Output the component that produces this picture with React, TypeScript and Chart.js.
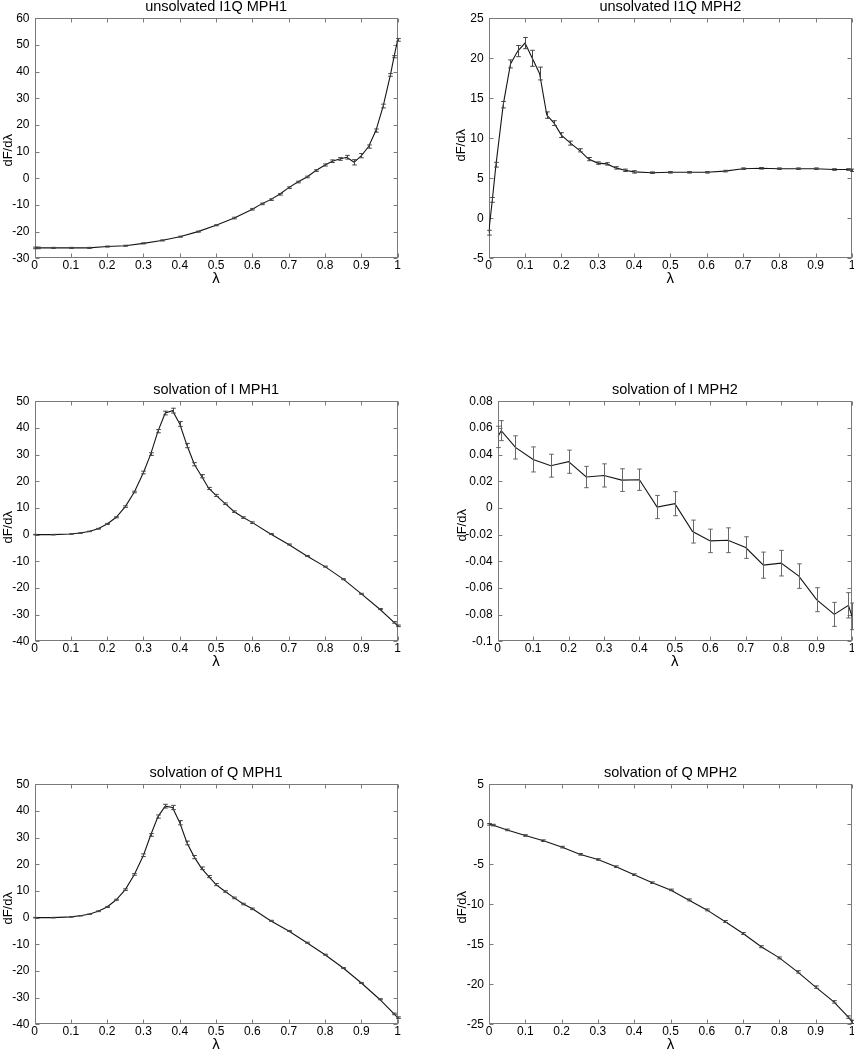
import React, { useEffect, useRef } from 'react';
import { Chart, registerables } from 'chart.js';

Chart.register(...registerables);

const FONT = "'Liberation Sans', Arial, Helvetica, sans-serif";

// ---------- Data ----------
// unsolvated I1Q MPH1
const lambdaA = [0, 0.01, 0.05, 0.1, 0.15, 0.2, 0.25, 0.3, 0.35, 0.4, 0.45, 0.5, 0.55, 0.6, 0.625, 0.65, 0.675, 0.7, 0.725, 0.75, 0.775, 0.8, 0.82, 0.84, 0.86, 0.88, 0.9, 0.92, 0.94, 0.96, 0.98, 0.99, 1];
const dFdlA = [-26.1, -26.1, -26.1, -26.1, -26.1, -25.6, -25.3, -24.4, -23.3, -21.9, -20, -17.6, -14.9, -11.6, -9.6, -8, -6, -3.5, -1.4, 0.5, 2.9, 5, 6.4, 7.25, 7.9, 6.0, 8.5, 11.9, 17.9, 27.1, 38.75, 45.6, 51.9];
const errA = [0.3, 0.3, 0.2, 0.2, 0.2, 0.2, 0.2, 0.2, 0.2, 0.2, 0.2, 0.2, 0.3, 0.3, 0.3, 0.3, 0.3, 0.3, 0.3, 0.3, 0.3, 0.4, 0.5, 0.5, 0.7, 1.0, 0.8, 0.6, 0.6, 0.7, 0.5, 0.4, 0.5];

// unsolvated I1Q MPH2
const lambdaB = [0, 0.01, 0.02, 0.04, 0.06, 0.08, 0.1, 0.12, 0.14, 0.16, 0.18, 0.2, 0.225, 0.25, 0.275, 0.3, 0.325, 0.35, 0.375, 0.4, 0.45, 0.5, 0.55, 0.6, 0.65, 0.7, 0.75, 0.8, 0.85, 0.9, 0.95, 0.99, 1];
const dFdlB = [-1.8, 2.3, 6.7, 14.2, 19.3, 20.9, 21.9, 20.0, 18.1, 12.9, 11.9, 10.4, 9.4, 8.5, 7.4, 6.9, 6.8, 6.3, 6.0, 5.8, 5.7, 5.75, 5.75, 5.75, 5.9, 6.2, 6.25, 6.2, 6.2, 6.2, 6.1, 6.1, 6.0];
const errB = [0.3, 0.3, 0.3, 0.4, 0.5, 0.7, 0.7, 1.0, 0.8, 0.4, 0.3, 0.3, 0.25, 0.2, 0.2, 0.15, 0.15, 0.15, 0.15, 0.15, 0.1, 0.1, 0.1, 0.1, 0.1, 0.1, 0.1, 0.1, 0.1, 0.1, 0.1, 0.1, 0.15];

// solvation of I MPH1
const lambdaC = [0, 0.05, 0.1, 0.125, 0.15, 0.175, 0.2, 0.225, 0.25, 0.275, 0.3, 0.32, 0.34, 0.36, 0.38, 0.4, 0.42, 0.44, 0.46, 0.48, 0.5, 0.525, 0.55, 0.575, 0.6, 0.65, 0.7, 0.75, 0.8, 0.85, 0.9, 0.95, 0.99, 1];
const dFdlC = [0, 0, 0.25, 0.6, 1.2, 2.2, 4.0, 6.5, 10.5, 16.0, 23.3, 30.2, 38.8, 45.6, 46.5, 41.5, 33.4, 26.4, 21.9, 17.3, 14.7, 11.6, 8.6, 6.4, 4.5, 0.25, -3.7, -8.0, -12.0, -16.7, -22.2, -27.9, -32.9, -34.2];
const errC = [0.1, 0.1, 0.1, 0.1, 0.1, 0.15, 0.2, 0.2, 0.3, 0.3, 0.5, 0.5, 0.6, 0.7, 0.9, 0.9, 0.8, 0.6, 0.6, 0.4, 0.4, 0.3, 0.3, 0.3, 0.3, 0.2, 0.2, 0.2, 0.2, 0.2, 0.2, 0.2, 0.3, 0.3];

// solvation of I MPH2
const lambdaD = [0, 0.01, 0.05, 0.1, 0.15, 0.2, 0.25, 0.3, 0.35, 0.4, 0.45, 0.5, 0.55, 0.6, 0.65, 0.7, 0.75, 0.8, 0.85, 0.9, 0.95, 0.99, 1];
const dFdlD = [0.0533, 0.058, 0.0454, 0.0364, 0.0317, 0.0347, 0.0232, 0.0244, 0.0209, 0.0212, 0.0007, 0.0032, -0.0177, -0.0247, -0.0242, -0.0297, -0.0429, -0.0414, -0.0511, -0.0688, -0.0798, -0.073, -0.0813];
const errD = [0.008, 0.0075, 0.0087, 0.0094, 0.0086, 0.0087, 0.008, 0.0087, 0.0085, 0.008, 0.0087, 0.009, 0.0086, 0.0088, 0.0093, 0.0081, 0.0098, 0.0096, 0.0092, 0.009, 0.009, 0.0095, 0.01];

// solvation of Q MPH1
const lambdaE = [0, 0.05, 0.1, 0.125, 0.15, 0.175, 0.2, 0.225, 0.25, 0.275, 0.3, 0.32, 0.34, 0.36, 0.38, 0.4, 0.42, 0.44, 0.46, 0.48, 0.5, 0.525, 0.55, 0.575, 0.6, 0.65, 0.7, 0.75, 0.8, 0.85, 0.9, 0.95, 0.99, 1];
const dFdlE = [0, 0, 0.3, 0.7, 1.3, 2.4, 4.0, 6.7, 10.5, 16.2, 23.4, 31.0, 37.9, 41.8, 41.3, 35.6, 28.0, 22.7, 18.5, 15.4, 12.4, 9.8, 7.4, 5.1, 3.3, -1.2, -5.0, -9.4, -13.9, -18.9, -24.5, -30.6, -36.1, -37.5];
const errE = [0.1, 0.1, 0.1, 0.1, 0.1, 0.15, 0.2, 0.2, 0.3, 0.3, 0.5, 0.5, 0.6, 0.7, 0.8, 0.8, 0.7, 0.6, 0.5, 0.4, 0.4, 0.3, 0.3, 0.3, 0.3, 0.2, 0.2, 0.2, 0.2, 0.2, 0.2, 0.2, 0.3, 0.3];

// solvation of Q MPH2
const lambdaF = [0, 0.01, 0.05, 0.1, 0.15, 0.2, 0.25, 0.3, 0.35, 0.4, 0.45, 0.5, 0.55, 0.6, 0.65, 0.7, 0.75, 0.8, 0.85, 0.9, 0.95, 0.99, 1];
const dFdlF = [0, -0.1, -0.7, -1.4, -2.05, -2.85, -3.75, -4.4, -5.3, -6.3, -7.3, -8.2, -9.45, -10.7, -12.15, -13.65, -15.3, -16.7, -18.45, -20.35, -22.2, -24.1, -24.7];
const errF = [0.1, 0.1, 0.1, 0.1, 0.1, 0.1, 0.1, 0.1, 0.1, 0.1, 0.1, 0.1, 0.12, 0.12, 0.12, 0.12, 0.12, 0.12, 0.15, 0.15, 0.15, 0.15, 0.2];

const titles = [
  'unsolvated I1Q MPH1',
  'unsolvated I1Q MPH2',
  'solvation of I MPH1',
  'solvation of I MPH2',
  'solvation of Q MPH1',
  'solvation of Q MPH2',
];
const yRanges = [
  [-30, 60, 10],
  [-5, 25, 5],
  [-40, 50, 10],
  [-0.1, 0.08, 0.02],
  [-40, 50, 10],
  [-25, 5, 5],
];
const xLabel = 'λ';
const yLabel = 'dF/dλ';

// ---------- Plugins ----------
const framePlugin = {
  id: 'frame',
  beforeDatasetsDraw(chart: any) {
    const { ctx, chartArea: a, scales } = chart;
    const tl = 4;
    ctx.save();
    ctx.strokeStyle = '#7a7a7a';
    ctx.lineWidth = 1;
    const L = Math.round(a.left) + 0.5;
    const R = Math.round(a.right) - 0.5;
    const T = Math.round(a.top) + 0.5;
    const B = Math.round(a.bottom) - 0.5;
    ctx.strokeRect(L, T, R - L, B - T);
    ctx.beginPath();
    scales.x.ticks.forEach((t: any) => {
      const px = Math.round(scales.x.getPixelForValue(t.value)) + 0.5;
      ctx.moveTo(px, B);
      ctx.lineTo(px, B - tl);
      ctx.moveTo(px, T);
      ctx.lineTo(px, T + tl);
    });
    scales.y.ticks.forEach((t: any) => {
      const py = Math.round(scales.y.getPixelForValue(t.value)) + 0.5;
      ctx.moveTo(L, py);
      ctx.lineTo(L + tl, py);
      ctx.moveTo(R, py);
      ctx.lineTo(R - tl, py);
    });
    ctx.stroke();
    ctx.restore();
  },
};

const errorBarPlugin = {
  id: 'errorBars',
  afterDatasetsDraw(chart: any, _args: any, opts: any) {
    const { ctx, scales } = chart;
    const ds = chart.data.datasets[0];
    const errs: number[] = opts.errors || [];
    const cap = 2.3;
    ctx.save();
    ctx.strokeStyle = opts.color || '#555';
    ctx.lineWidth = 1;
    ctx.beginPath();
    ds.data.forEach((p: any, i: number) => {
      const e = errs[i] || 0;
      const px = Math.round(scales.x.getPixelForValue(p.x)) + 0.5;
      const yt = scales.y.getPixelForValue(p.y + e);
      const yb = scales.y.getPixelForValue(p.y - e);
      ctx.moveTo(px, yt);
      ctx.lineTo(px, yb);
      ctx.moveTo(px - cap, yt);
      ctx.lineTo(px + cap, yt);
      ctx.moveTo(px - cap, yb);
      ctx.lineTo(px + cap, yb);
    });
    ctx.stroke();
    ctx.restore();
  },
};

// y-axis title drawn beside the y scale, slightly below centre as in the reference
const yTitlePlugin = {
  id: 'yTitle',
  afterDraw(chart: any, _args: any, opts: any) {
    const { ctx, chartArea: a } = chart;
    const cy = (a.top + a.bottom) / 2 + (opts.dy || 0);
    ctx.save();
    ctx.translate(opts.x, cy);
    ctx.rotate(-Math.PI / 2);
    ctx.fillStyle = '#000';
    ctx.font = `13px ${FONT}`;
    ctx.textAlign = 'center';
    ctx.textBaseline = 'middle';
    ctx.fillText(opts.text, 0, 0);
    ctx.restore();
  },
};

const fmt = (v: number) => String(Math.round(v * 10000) / 10000);

// ---------- Panel ----------
type PanelProps = {
  title: string;
  xs: number[];
  ys: number[];
  errs: number[];
  yRange: number[];
  left: number;
  top: number;
  padLeft: number;
  yAxisWidth: number;
  padRight: number;
  errColor: string;
  yTitleDy: number;
};

const W = 427;
const H = 290;

function Panel(props: PanelProps) {
  const ref = useRef<HTMLCanvasElement | null>(null);
  useEffect(() => {
    if (!ref.current) return;
    const { title, xs, ys, errs, yRange, padLeft, yAxisWidth, padRight, errColor, yTitleDy } = props;
    const chart = new Chart(ref.current, {
      type: 'line',
      data: {
        datasets: [
          {
            data: xs.map((x, i) => ({ x, y: ys[i] })),
            borderColor: '#151515',
            borderWidth: 1.1,
            pointRadius: 0,
            fill: false,
            tension: 0,
          },
        ],
      },
      options: {
        responsive: false,
        animation: false,
        devicePixelRatio: 1,
        layout: { padding: { left: padLeft, right: padRight, top: 0, bottom: 0 } },
        plugins: {
          legend: { display: false },
          tooltip: { enabled: false },
          title: {
            display: true,
            text: title,
            fullSize: false,
            color: '#000',
            font: { family: FONT, size: 14.5, weight: 'normal', lineHeight: 1 },
            padding: { top: 0, bottom: 3.8 },
          },
          errorBars: { errors: errs, color: errColor },
          yTitle: { text: yLabel, x: padLeft + 8.3, dy: yTitleDy },
        } as any,
        scales: {
          x: {
            type: 'linear',
            min: 0,
            max: 1,
            grid: { display: false, drawTicks: false },
            border: { display: false },
            ticks: {
              stepSize: 0.1,
              autoSkip: false,
              maxRotation: 0,
              padding: 0,
              color: '#000',
              font: { family: FONT, size: 12 },
              callback: (v: any) => fmt(Number(v)),
            },
            title: {
              display: true,
              text: xLabel,
              color: '#000',
              font: { family: FONT, size: 15 },
              padding: { top: 0, bottom: 2 },
            },
            afterFit: (s: any) => {
              s.height = 31.7;
              s.paddingLeft = 0;
              s.paddingRight = 0;
            },
          },
          y: {
            type: 'linear',
            min: yRange[0],
            max: yRange[1],
            grid: { display: false, drawTicks: false },
            border: { display: false },
            ticks: {
              stepSize: yRange[2],
              autoSkip: false,
              padding: 5,
              color: '#000',
              font: { family: FONT, size: 12 },
              callback: (v: any) => fmt(Number(v)),
            },
            title: { display: false },
            afterFit: (s: any) => {
              s.width = yAxisWidth;
              s.paddingTop = 0;
              s.paddingBottom = 0;
            },
          },
        },
      } as any,
      plugins: [framePlugin, errorBarPlugin, yTitlePlugin],
    });
    return () => chart.destroy();
  }, []);
  return (
    <div style={{ position: 'absolute', left: props.left, top: props.top, width: W, height: H }}>
      <canvas ref={ref} width={W} height={H} style={{ width: W, height: H, display: 'block' }} />
    </div>
  );
}

export default function App() {
  const panels: PanelProps[] = [
    { title: titles[0], xs: lambdaA, ys: dFdlA, errs: errA, yRange: yRanges[0], left: 0, top: 0, padLeft: 0, yAxisWidth: 34.5, padRight: 29.3, errColor: '#444', yTitleDy: 12 },
    { title: titles[1], xs: lambdaB, ys: dFdlB, errs: errB, yRange: yRanges[1], left: 427, top: 0, padLeft: 26, yAxisWidth: 35.7, padRight: 2, errColor: '#444', yTitleDy: 7 },
    { title: titles[2], xs: lambdaC, ys: dFdlC, errs: errC, yRange: yRanges[2], left: 0, top: 382.7, padLeft: 0, yAxisWidth: 34.5, padRight: 29.3, errColor: '#444', yTitleDy: 6 },
    { title: titles[3], xs: lambdaD, ys: dFdlD, errs: errD, yRange: yRanges[3], left: 427, top: 382.7, padLeft: 26.7, yAxisWidth: 44, padRight: 2, errColor: '#666', yTitleDy: 4 },
    { title: titles[4], xs: lambdaE, ys: dFdlE, errs: errE, yRange: yRanges[4], left: 0, top: 765.7, padLeft: 0, yAxisWidth: 34.5, padRight: 29.3, errColor: '#444', yTitleDy: 4 },
    { title: titles[5], xs: lambdaF, ys: dFdlF, errs: errF, yRange: yRanges[5], left: 427, top: 765.7, padLeft: 26.7, yAxisWidth: 35.3, padRight: 2, errColor: '#444', yTitleDy: 3 },
  ];
  return (
    <div style={{ position: 'absolute', left: 0, top: 0, width: 854, height: 1050, overflow: 'hidden', background: '#fff' }}>
      {panels.map((p, i) => (
        <Panel key={i} {...p} />
      ))}
    </div>
  );
}
